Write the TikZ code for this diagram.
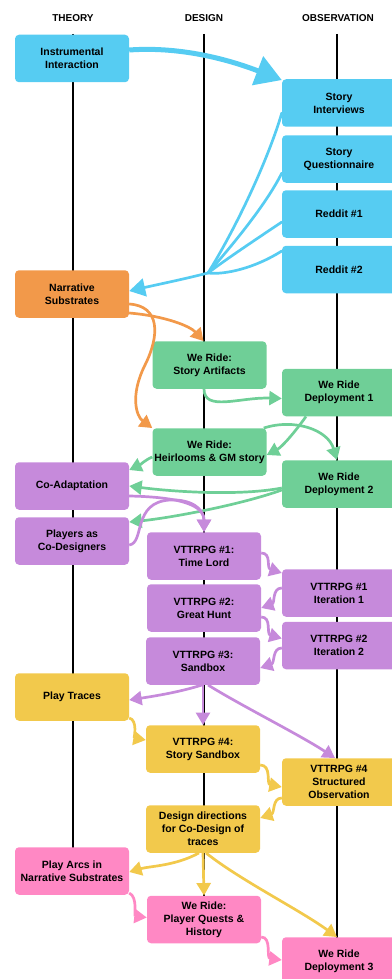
\documentclass[tikz,border=0pt]{standalone}
\usepackage{fontspec}
\setmainfont{Liberation Sans}
\usepackage{xcolor}
\usepackage{tikz}
\usetikzlibrary{calc,arrows.meta}

\definecolor{cyanbox}{HTML}{56CCF2}
\definecolor{orangebox}{HTML}{F2994A}
\definecolor{greenbox}{HTML}{6FCF97}
\definecolor{purplebox}{HTML}{C68ADB}
\definecolor{yellowbox}{HTML}{F2C94C}
\definecolor{pinkbox}{HTML}{FF88C4}

\begin{document}
\begin{tikzpicture}[x=1pt,y=-1pt]
\tikzstyle{every node}+=[inner sep=0pt]
\tikzstyle{head}=[font=\bfseries\fontsize{10}{12}\selectfont]
\tikzstyle{box}=[rectangle, rounded corners=4pt, minimum width=114pt, minimum height=47.5pt, align=center, font=\bfseries\fontsize{10.5}{13}\selectfont]
\tikzstyle{colline}=[black, line width=1.2pt]
\tikzstyle{link}=[line width=2.7pt, -{Triangle[length=12.5pt,width=14pt]}]
\tikzstyle{feed}=[line width=2.7pt, line cap=round]
    \useasboundingbox (0,0) rectangle (391,979);
    % column titles and time lines
    \node [head] (theory) at (73,18) {THEORY};
    \node [head] (design) at (204,18) {DESIGN};
    \node [head] (observation) at (338,18) {OBSERVATION};
    \draw [colline] (73,34) -- (73,895);
    \draw [colline] (204,34) -- (204,900);
    \draw [colline] (337,34) -- (337,979);
    % boxes
    \node [box, fill=cyanbox] (instr) at (72,58.5) {Instrumental\\Interaction};
    \node [box, fill=cyanbox] (interv) at (339,103) {Story\\Interviews};
    \node [box, fill=cyanbox] (quest) at (339,159) {Story\\Questionnaire};
    \node [box, fill=cyanbox] (reddit1) at (339,214) {Reddit \#1};
    \node [box, fill=cyanbox] (reddit2) at (339,269.5) {Reddit \#2};
    \node [box, fill=orangebox] (narr) at (72,294) {Narrative\\Substrates};
    \node [box, fill=greenbox] (artif) at (209.5,365) {We Ride:\\Story Artifacts};
    \node [box, fill=greenbox] (dep1) at (339,392.5) {We Ride\\Deployment 1};
    \node [box, fill=greenbox] (heir) at (209.5,452) {We Ride:\\Heirlooms \& GM story};
    \node [box, fill=purplebox] (coad) at (72,486) {Co-Adaptation};
    \node [box, fill=greenbox] (dep2) at (339,484) {We Ride\\Deployment 2};
    \node [box, fill=purplebox] (players) at (72,541) {Players as\\Co-Designers};
    \node [box, fill=purplebox] (vt1) at (204,556) {VTTRPG \#1:\\Time Lord};
    \node [box, fill=purplebox] (it1) at (339,593) {VTTRPG \#1\\Iteration 1};
    \node [box, fill=purplebox] (vt2) at (204,608) {VTTRPG \#2:\\Great Hunt};
    \node [box, fill=purplebox] (it2) at (339,645.5) {VTTRPG \#2\\Iteration 2};
    \node [box, fill=purplebox] (vt3) at (203,661) {VTTRPG \#3:\\Sandbox};
    \node [box, fill=yellowbox] (traces) at (72,697) {Play Traces};
    \node [box, fill=yellowbox] (vt4) at (203,749) {VTTRPG \#4:\\Story Sandbox};
    \node [box, fill=yellowbox] (struct) at (339,782) {VTTRPG \#4\\Structured\\Observation};
    \node [box, fill=yellowbox] (dirs) at (203,829) {Design directions\\for Co-Design of\\traces};
    \node [box, fill=pinkbox] (arcs) at (72,871) {Play Arcs in\\Narrative Substrates};
    \node [box, fill=pinkbox] (quests) at (204,919.5) {We Ride:\\Player Quests \&\\History};
    \node [box, fill=pinkbox] (dep3) at (339,961) {We Ride\\Deployment 3};
    % cyan
    \draw [cyanbox, line width=5pt, -{Triangle[length=26pt,width=30pt]}] ([yshift=8.5pt]instr.east) .. controls (185,46) and (235,62) .. ([yshift=-1pt]interv.north west);
    \coordinate (hub) at (208,273);
    \draw [cyanbox, feed] ([yshift=-10pt]interv.west) .. controls (268,160) and (236,228) .. (hub);
    \draw [cyanbox, feed] ([yshift=-14pt]quest.west) .. controls (266,205) and (230,248) .. (hub);
    \draw [cyanbox, feed] ([yshift=-8pt]reddit1.west) .. controls (255,240) and (225,260) .. (hub);
    \draw [cyanbox, feed] ([yshift=18.5pt]reddit2.west) .. controls (255,268) and (225,275) .. (hub);
    \draw [cyanbox, link, -{Triangle[length=16pt,width=18pt]}] (hub) .. controls (180,280) and (160,284) .. ([yshift=3pt]narr.east);
    % orange
    \draw [orangebox, link] ([yshift=-19pt]narr.east) .. controls (165,316) and (190,326) .. ([xshift=-6pt]artif.north);
    \draw [orangebox, link] ([yshift=-10pt]narr.east) .. controls (160,306) and (160,335) .. (145,365) .. controls (130,395) and (136,416) .. (heir.north west);
    % green
    \draw [greenbox, link] ([xshift=-5.5pt]artif.south) .. controls (204,412) and (240,397) .. ([yshift=-6pt]dep1.west);
    \draw [greenbox, link] ([xshift=-33pt]dep1.south) .. controls (295,432) and (282,447) .. ([yshift=-3pt]heir.east);
    \draw [greenbox, link] ([xshift=-3pt]heir.north east) .. controls (295,418) and (328,430) .. ([xshift=-2pt]dep2.north);
    \draw [greenbox, link] ([yshift=-5pt]heir.west) .. controls (145,460) and (140,465) .. ([yshift=16pt]coad.east);
    \draw [greenbox, link] ([yshift=-4pt]dep2.west) .. controls (240,496) and (175,492) .. (coad.east);
    \draw [greenbox, link] ([yshift=-6pt]dep2.west) .. controls (240,505) and (170,518) .. ([yshift=19pt]players.east);
    % purple
    \draw [purplebox, link] ([yshift=-10pt]coad.east) .. controls (180,497) and (204,505) .. (vt1.north);
    \draw [purplebox, link] ([yshift=-4pt]players.east) .. controls (145,543) and (132,502) .. (170,500) .. controls (190,499) and (204,508) .. (vt1.north);
    \draw [purplebox, link] ([yshift=3pt]vt1.east) .. controls (272,553) and (266,568) .. ([yshift=20pt]it1.west);
    \draw [purplebox, link] ([yshift=5pt]it1.west) .. controls (272,588) and (275,603) .. (vt2.east);
    \draw [purplebox, link] ([yshift=-9pt]vt2.east) .. controls (272,617) and (266,634) .. ([yshift=7pt]it2.west);
    \draw [purplebox, link] ([yshift=-2.5pt]it2.west) .. controls (272,648) and (275,663) .. ([yshift=-7pt]vt3.east);
    \draw [purplebox, link] ([xshift=-1pt]vt3.south) .. controls (180,692) and (155,696) .. ([yshift=-3pt]traces.east);
    \draw [purplebox, link] (vt3.south) -- (vt4.north);
    \draw [purplebox, link] ([xshift=5pt]vt3.south) .. controls (240,705) and (300,735) .. ([xshift=-4pt]struct.north);
    % yellow
    \draw [yellowbox, link] ([yshift=-21pt]traces.east) .. controls (138,720) and (134,738) .. ([yshift=9pt]vt4.west);
    \draw [yellowbox, link] ([yshift=-16pt]vt4.east) .. controls (272,765) and (266,784) .. ([yshift=-5pt]struct.west);
    \draw [yellowbox, link] ([yshift=-16pt]struct.west) .. controls (272,798) and (275,813) .. ([yshift=11pt]dirs.east);
    \draw [yellowbox, link] ([xshift=-4pt]dirs.south) .. controls (175,866) and (150,866) .. ([yshift=-1pt]arcs.east);
    \draw [yellowbox, link] (dirs.south) -- (quests.north);
    \draw [yellowbox, link] ([xshift=3pt]dirs.south) .. controls (240,880) and (300,910) .. ([xshift=-2pt]dep3.north);
    % pink
    \draw [pinkbox, link] ([yshift=-22pt]arcs.east) .. controls (138,897) and (134,916) .. ([yshift=2pt]quests.west);
    \draw [pinkbox, link] ([yshift=-17.5pt]quests.east) .. controls (272,937) and (266,958) .. ([yshift=1pt]dep3.west);
\end{tikzpicture}
\end{document}
